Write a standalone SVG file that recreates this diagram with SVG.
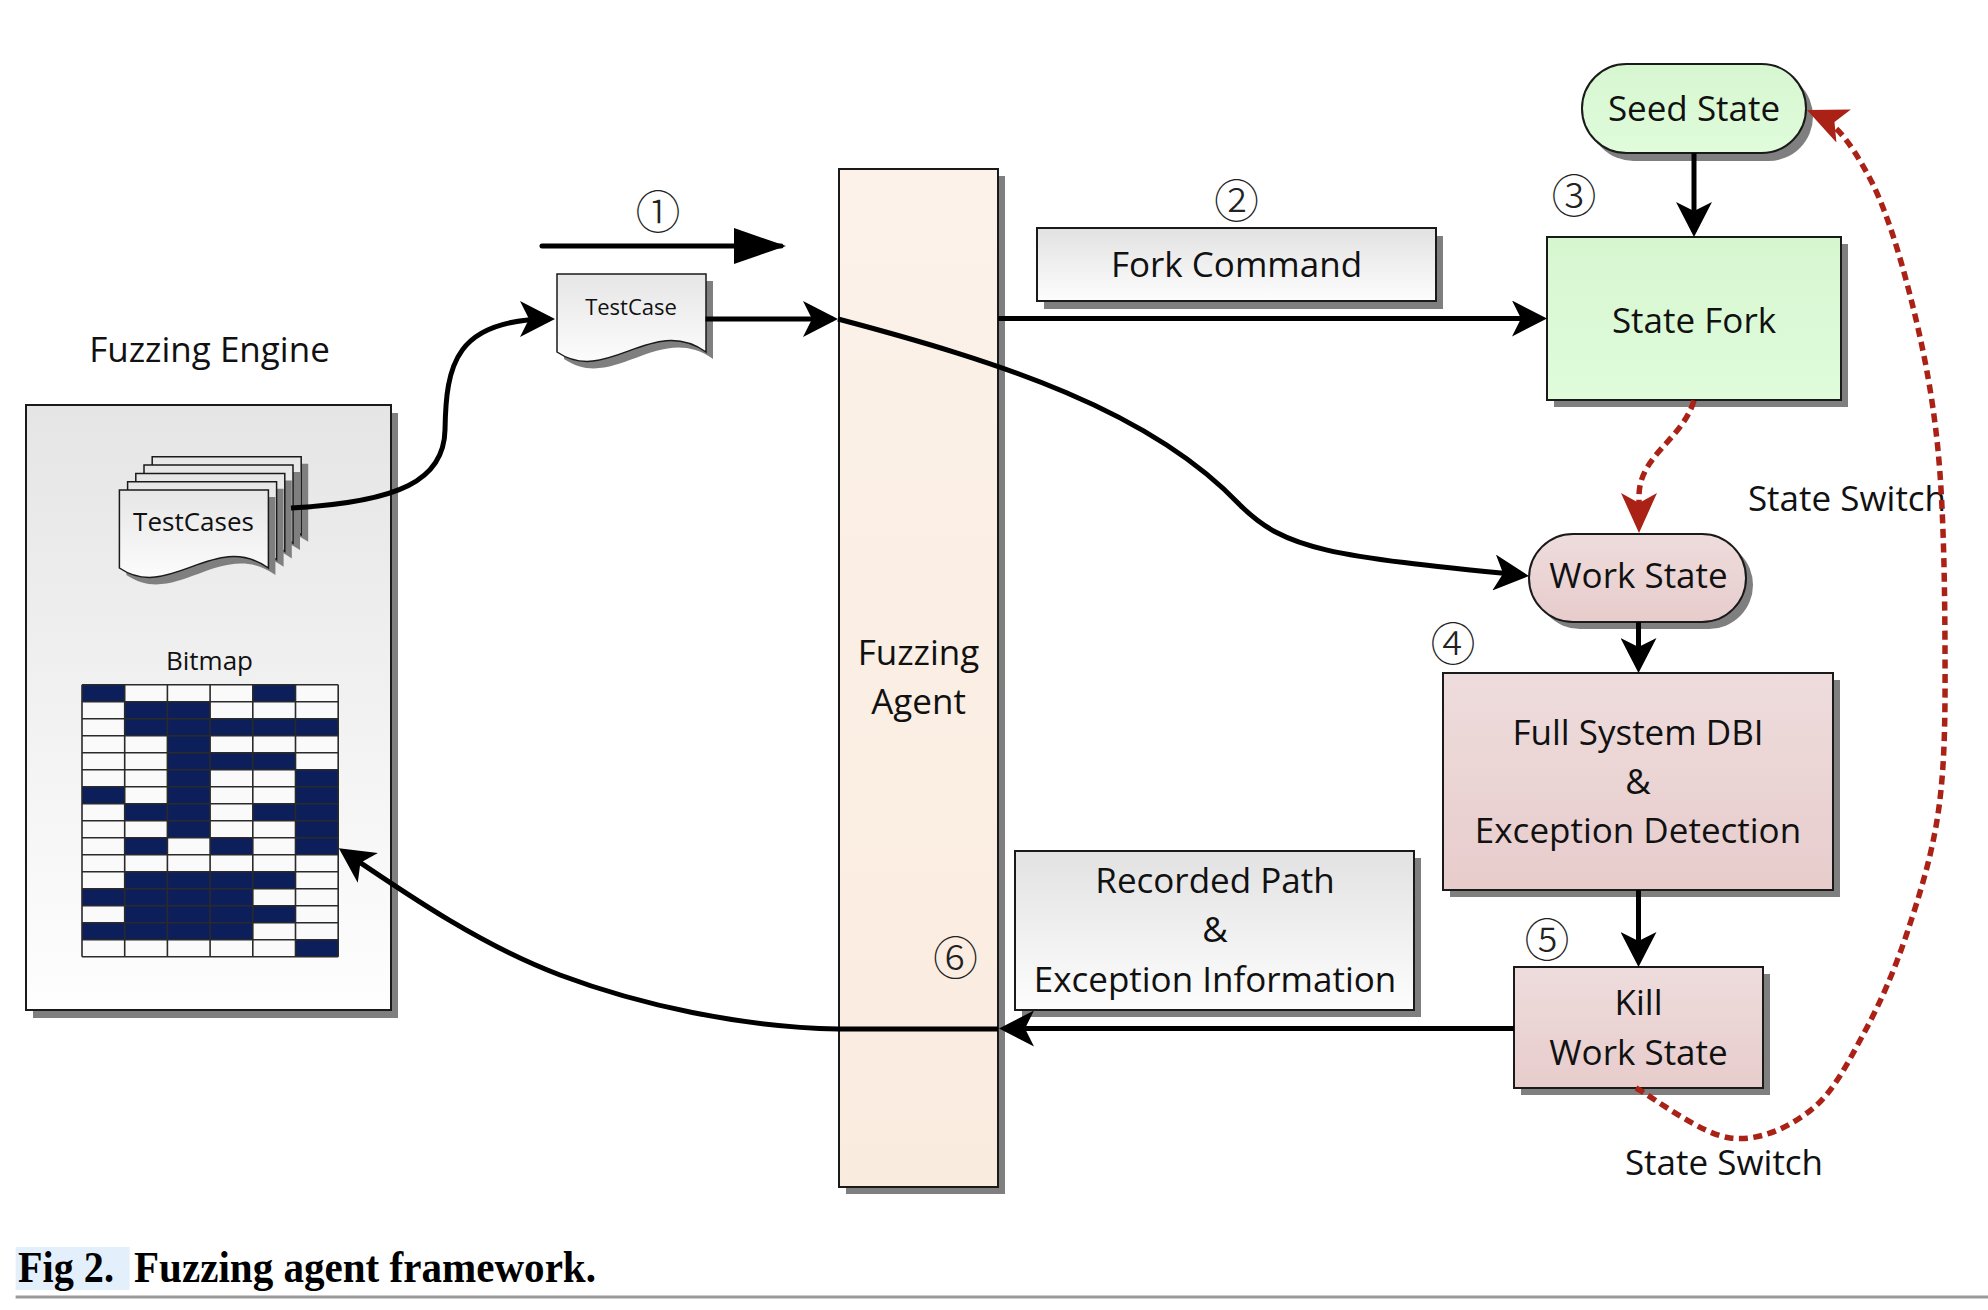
<svg xmlns="http://www.w3.org/2000/svg" xmlns:xlink="http://www.w3.org/1999/xlink" width="1988" height="1310" viewBox="0 0 1988 1310">
  <style>
    .lbl { font-family: "Open Sans", "Noto Sans", "Liberation Sans", sans-serif; font-size: 35px; fill: #111; text-anchor: middle; }
    .sm { font-size: 26px; }
    .xs { font-size: 22px; }
    .num { font-family: "Noto Sans CJK JP", "DejaVu Sans", sans-serif; font-size: 45px; font-weight: 300; fill: #222; text-anchor: middle; dominant-baseline: central; }
    .box { stroke: #1a1a1a; stroke-width: 2; }
    .shadow { fill: #7f7f7f; }
    .wire { fill: none; stroke: #000; stroke-width: 5; }
    .dash { fill: none; stroke: #aa2116; stroke-width: 5.5; stroke-dasharray: 9 5.5; }
    .cap { font-family: "Liberation Serif", "DejaVu Serif", serif; font-weight: bold; font-size: 44px; fill: #000; }
  </style>
  <defs>
    <linearGradient id="gGray" x1="0" y1="0" x2="0" y2="1">
      <stop offset="0" stop-color="#e2e2e2"/>
      <stop offset="1" stop-color="#fdfdfd"/>
    </linearGradient>
    <linearGradient id="gEngine" x1="0" y1="0" x2="0" y2="1">
      <stop offset="0" stop-color="#e5e5e5"/>
      <stop offset="1" stop-color="#fefefe"/>
    </linearGradient>
    <linearGradient id="gSheet" x1="0" y1="0" x2="0" y2="1">
      <stop offset="0" stop-color="#e6e6e6"/>
      <stop offset="1" stop-color="#fcfcfc"/>
    </linearGradient>
    <linearGradient id="gGreen" x1="0" y1="0" x2="0" y2="1">
      <stop offset="0" stop-color="#d6f6d0"/>
      <stop offset="1" stop-color="#e0fcdb"/>
    </linearGradient>
    <linearGradient id="gPink" x1="0" y1="0" x2="0" y2="1">
      <stop offset="0" stop-color="#eedcdc"/>
      <stop offset="1" stop-color="#e8cccc"/>
    </linearGradient>
    <linearGradient id="gAgent" x1="0" y1="0" x2="0" y2="1">
      <stop offset="0" stop-color="#fcf2e9"/>
      <stop offset="1" stop-color="#faebdf"/>
    </linearGradient>
    <!-- document sheet with wavy bottom edge -->
    <path id="doc" d="M0,0 H149 V78 C95,40 50,112 0,78 Z"/>
    <marker id="ah" markerUnits="userSpaceOnUse" viewBox="0 0 36 36" refX="30" refY="18" markerWidth="36" markerHeight="36" orient="auto">
      <path d="M0,0 L35,18 L0,36 L9,18 Z" fill="#000"/>
    </marker>
    <marker id="ahFlat" markerUnits="userSpaceOnUse" viewBox="0 0 52 36" refX="47" refY="18" markerWidth="52" markerHeight="36" orient="auto">
      <path d="M0,0 L52,18 L0,36 Z" fill="#000"/>
    </marker>
    <marker id="ahRed" markerUnits="userSpaceOnUse" viewBox="0 0 40 36" refX="34" refY="18" markerWidth="40" markerHeight="36" orient="auto">
      <path d="M0,0 L40,18 L0,36 L10,18 Z" fill="#aa2116"/>
    </marker>
  </defs>

  <rect x="0" y="0" width="1988" height="1310" fill="#fff"/>

  <!-- Fuzzing Engine -->
  <g id="fuzzing-engine">
    <text class="lbl" x="209.5" y="362">Fuzzing Engine</text>
    <rect class="shadow" x="33" y="413" width="365" height="605"/>
    <rect class="box" x="26" y="405" width="365" height="605" fill="url(#gEngine)"/>
  </g>

  <g id="testcases">
    <use xlink:href="#doc" transform="translate(159.2,463.8)" class="shadow"/>
    <use xlink:href="#doc" transform="translate(152.2,456.8)" fill="url(#gSheet)" stroke="#1a1a1a" stroke-width="1.5"/>
    <use xlink:href="#doc" transform="translate(151,472.1)" class="shadow"/>
    <use xlink:href="#doc" transform="translate(144,465.1)" fill="url(#gSheet)" stroke="#1a1a1a" stroke-width="1.5"/>
    <use xlink:href="#doc" transform="translate(142.8,480.4)" class="shadow"/>
    <use xlink:href="#doc" transform="translate(135.8,473.4)" fill="url(#gSheet)" stroke="#1a1a1a" stroke-width="1.5"/>
    <use xlink:href="#doc" transform="translate(134.6,488.7)" class="shadow"/>
    <use xlink:href="#doc" transform="translate(127.6,481.7)" fill="url(#gSheet)" stroke="#1a1a1a" stroke-width="1.5"/>
    <use xlink:href="#doc" transform="translate(126.4,497)" class="shadow"/>
    <use xlink:href="#doc" transform="translate(119.4,490)" fill="url(#gSheet)" stroke="#1a1a1a" stroke-width="1.5"/>
    <text class="lbl sm" x="193.5" y="531">TestCases</text>
  </g>

  <g id="bitmap">
    <text class="lbl sm" x="209.5" y="670">Bitmap</text>
    <rect x="82" y="684.7" width="256.2" height="272" fill="#fafafa"/>
    <g fill="#0c1f5a">
      <rect x="82" y="684.7" width="42.7" height="17"/>
      <rect x="252.8" y="684.7" width="42.7" height="17"/>
      <rect x="124.7" y="701.7" width="85.4" height="17"/>
      <rect x="124.7" y="718.7" width="213.5" height="17"/>
      <rect x="167.4" y="735.7" width="42.7" height="17"/>
      <rect x="167.4" y="752.7" width="128.1" height="17"/>
      <rect x="167.4" y="769.7" width="42.7" height="17"/>
      <rect x="295.5" y="769.7" width="42.7" height="17"/>
      <rect x="82" y="786.7" width="42.7" height="17"/>
      <rect x="167.4" y="786.7" width="42.7" height="17"/>
      <rect x="295.5" y="786.7" width="42.7" height="17"/>
      <rect x="124.7" y="803.7" width="85.4" height="17"/>
      <rect x="252.8" y="803.7" width="85.4" height="17"/>
      <rect x="167.4" y="820.7" width="42.7" height="17"/>
      <rect x="295.5" y="820.7" width="42.7" height="17"/>
      <rect x="124.7" y="837.7" width="42.7" height="17"/>
      <rect x="210.1" y="837.7" width="42.7" height="17"/>
      <rect x="295.5" y="837.7" width="42.7" height="17"/>
      <rect x="124.7" y="871.7" width="170.8" height="17"/>
      <rect x="82" y="888.7" width="170.8" height="17"/>
      <rect x="124.7" y="905.7" width="170.8" height="17"/>
      <rect x="82" y="922.7" width="170.8" height="17"/>
      <rect x="295.5" y="939.7" width="42.7" height="17"/>
    </g>
    <path fill="none" stroke="#2a2a2a" stroke-width="1.6" d="M82,684.7 V956.7 M124.7,684.7 V956.7 M167.4,684.7 V956.7 M210.1,684.7 V956.7 M252.8,684.7 V956.7 M295.5,684.7 V956.7 M338.2,684.7 V956.7 M82,684.7 H338.2 M82,701.7 H338.2 M82,718.7 H338.2 M82,735.7 H338.2 M82,752.7 H338.2 M82,769.7 H338.2 M82,786.7 H338.2 M82,803.7 H338.2 M82,820.7 H338.2 M82,837.7 H338.2 M82,854.7 H338.2 M82,871.7 H338.2 M82,888.7 H338.2 M82,905.7 H338.2 M82,922.7 H338.2 M82,939.7 H338.2 M82,956.7 H338.2"/>
  </g>

  <!-- single test case in transit -->
  <g id="testcase">
    <use xlink:href="#doc" transform="translate(564,281)" class="shadow"/>
    <use xlink:href="#doc" transform="translate(557,274)" fill="url(#gSheet)" stroke="#1a1a1a" stroke-width="1.5"/>
    <text class="lbl xs" x="631" y="315">TestCase</text>
  </g>

  <g id="fuzzing-agent">
    <rect class="shadow" x="846" y="176" width="159" height="1018"/>
    <rect class="box" x="839" y="169" width="159" height="1018" fill="url(#gAgent)"/>
    <text class="lbl" x="918.5" y="665">Fuzzing</text>
    <text class="lbl" x="918.5" y="714">Agent</text>
  </g>

  <g id="fork-command">
    <rect class="shadow" x="1044" y="236" width="399" height="73"/>
    <rect class="box" x="1037" y="228" width="399" height="73" fill="url(#gGray)"/>
    <text class="lbl" x="1236.5" y="277">Fork Command</text>
  </g>

  <g id="seed-state">
    <rect class="shadow" x="1589" y="72" width="224" height="89" rx="44.5"/>
    <rect class="box" x="1582" y="64" width="224" height="89" rx="44.5" fill="url(#gGreen)"/>
    <text class="lbl" x="1694" y="121">Seed State</text>
  </g>

  <g id="state-fork">
    <rect class="shadow" x="1554" y="244" width="294" height="163"/>
    <rect class="box" x="1547" y="237" width="294" height="163" fill="url(#gGreen)"/>
    <text class="lbl" x="1694" y="333">State Fork</text>
  </g>

  <g id="work-state">
    <rect class="shadow" x="1536" y="541" width="217" height="88" rx="44"/>
    <rect class="box" x="1529" y="534" width="217" height="88" rx="44" fill="url(#gPink)"/>
    <text class="lbl" x="1638.5" y="588">Work State</text>
  </g>

  <g id="full-system-dbi">
    <rect class="shadow" x="1450" y="680" width="390" height="217"/>
    <rect class="box" x="1443" y="673" width="390" height="217" fill="url(#gPink)"/>
    <text class="lbl" x="1638" y="745">Full System DBI</text>
    <text class="lbl" x="1638" y="794">&amp;</text>
    <text class="lbl" x="1638" y="843">Exception Detection</text>
  </g>

  <g id="kill-work-state">
    <rect class="shadow" x="1521" y="974" width="249" height="121"/>
    <rect class="box" x="1514" y="967" width="249" height="121" fill="url(#gPink)"/>
    <text class="lbl" x="1638.5" y="1015">Kill</text>
    <text class="lbl" x="1638.5" y="1065">Work State</text>
  </g>

  <g id="recorded-path">
    <rect class="shadow" x="1022" y="858" width="399" height="159"/>
    <rect class="box" x="1015" y="851" width="399" height="159" fill="url(#gGray)"/>
    <text class="lbl" x="1215" y="893">Recorded Path</text>
    <text class="lbl" x="1215" y="942">&amp;</text>
    <text class="lbl" x="1215" y="992">Exception Information</text>
  </g>

  <!-- step numbers and free labels -->
  <g id="labels">
    <text class="num" x="658" y="209">①</text>
    <text class="num" x="1236.5" y="198">②</text>
    <text class="num" x="1574" y="193">③</text>
    <text class="num" x="1453" y="641">④</text>
    <text class="num" x="1547" y="937">⑤</text>
    <text class="num" x="955.5" y="955">⑥</text>
    <text class="lbl" x="1847" y="511">State Switch</text>
    <text class="lbl" x="1724" y="1175">State Switch</text>
  </g>

  <g id="connectors">
    <path class="wire" stroke-linecap="round" d="M542,246 H781" marker-end="url(#ahFlat)"/>
    <path class="wire" d="M291,508 C400,502 444,480 445,430 C446,365 455,319 550,319" marker-end="url(#ah)"/>
    <path class="wire" d="M705.5,319 H833" marker-end="url(#ah)"/>
    <path class="wire" d="M838,319 C1000,362 1150,410 1240,505 C1285,550 1330,556 1524,575.5" marker-end="url(#ah)"/>
    <path class="wire" d="M998,318.5 H1542" marker-end="url(#ah)"/>
    <path class="wire" d="M1694,153 V232" marker-end="url(#ah)"/>
    <path class="wire" d="M1638.5,622 V668" marker-end="url(#ah)"/>
    <path class="wire" d="M1638.5,890 V962" marker-end="url(#ah)"/>
    <path class="wire" d="M1514,1028.5 H1004" marker-end="url(#ah)"/>
    <path class="wire" d="M998,1029 L838,1029 C740,1027 640,1005 560,975 C480,945 405,893 343,851" marker-end="url(#ah)"/>
    <path class="dash" d="M1694,400.5 C1682,440 1640,455 1639,495 L1639,527" marker-end="url(#ahRed)"/>
    <path class="dash" d="M1636,1088 C1651.7,1096.3 1700.8,1134.3 1730,1138 C1759.2,1141.7 1788.7,1127.5 1811,1110 C1833.3,1092.5 1848,1062.5 1864,1033 C1880,1003.5 1894.5,970.7 1907,933 C1919.5,895.3 1932.7,854.2 1939,807 C1945.3,759.8 1945.2,709.5 1945,650 C1944.8,590.5 1943.8,509.2 1938,450 C1932.2,390.8 1921.8,341.2 1910,295 C1898.2,248.8 1884.2,203.8 1867,173 C1849.8,142.2 1836,122.7 1812.5,112.4" marker-end="url(#ahRed)"/>
  </g>

  <!-- caption -->
  <g id="caption">
    <rect x="15.6" y="1247" width="114" height="43" fill="#e3f0fb"/>
    <text class="cap" x="18" y="1282" fill="#13202e" textLength="96" lengthAdjust="spacingAndGlyphs">Fig 2.</text>
    <text class="cap" x="134" y="1282" textLength="462" lengthAdjust="spacingAndGlyphs">Fuzzing agent framework.</text>
    <line x1="15.6" y1="1297" x2="1988" y2="1297" stroke="#9a9a9a" stroke-width="3"/>
  </g>
</svg>
